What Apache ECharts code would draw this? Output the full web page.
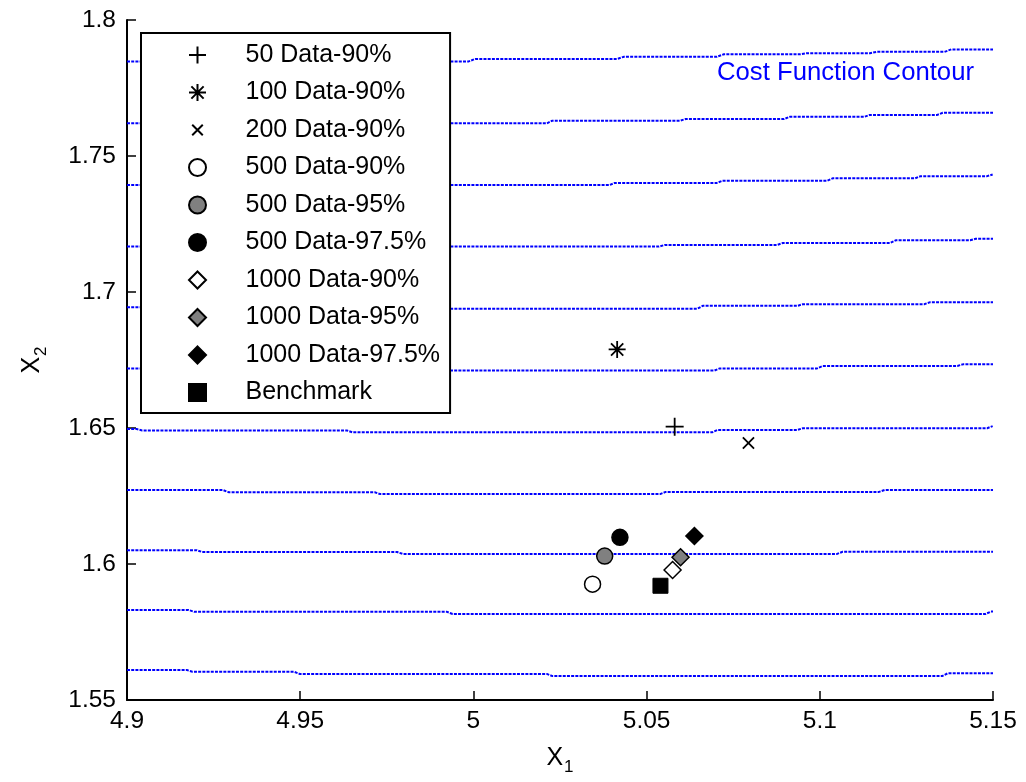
<!DOCTYPE html>
<html><head><meta charset="utf-8">
<script src="https://cdn.jsdelivr.net/npm/echarts@6/dist/echarts.min.js"></script>
<style>html,body{margin:0;padding:0;background:#fff}#c{width:1026px;height:782px}</style>
</head><body><div id="c"></div>
<script>
// ---- data ----
const seriesNames = ['50 Data-90%','100 Data-90%','200 Data-90%','500 Data-90%','500 Data-95%','500 Data-97.5%','1000 Data-90%','1000 Data-95%','1000 Data-97.5%','Benchmark'];
const xValues = [5.0581, 5.0415, 5.0794, 5.0344, 5.0379, 5.0423, 5.0575, 5.0598, 5.0638, 5.0540];
const yValues = [1.6505, 1.6789, 1.6445, 1.5926, 1.6029, 1.6098, 1.5978, 1.6025, 1.6103, 1.5920];
const xTickValues = [4.9, 4.95, 5, 5.05, 5.1, 5.15];
const yTickValues = [1.55, 1.6, 1.65, 1.7, 1.75, 1.8];

const contour1 = [[4.9,1.7847],[4.9985,1.7847],[5.0005,1.7857],[5.0415,1.7857],[5.0435,1.7865],[5.0703,1.7865],[5.0723,1.7874],[5.0943,1.7874],[5.0963,1.7878],[5.1145,1.7878],[5.1165,1.7883],[5.1360,1.7883],[5.1380,1.7892],[5.15,1.7892]];
const contour2 = [[4.9,1.7620],[5.0212,1.7620],[5.0228,1.7630],[5.0597,1.7630],[5.0613,1.7636],[5.0897,1.7636],[5.0913,1.7644],[5.1128,1.7644],[5.1144,1.7651],[5.1339,1.7651],[5.1355,1.7659],[5.15,1.7659]];
const contour3 = [[4.9,1.7393],[5.0392,1.7393],[5.0408,1.7401],[5.0703,1.7401],[5.0719,1.7409],[5.1021,1.7409],[5.1037,1.7418],[5.1275,1.7418],[5.1291,1.7426],[5.1483,1.7426],[5.1499,1.7432],[5.15,1.7432]];
const contour4 = [[4.9,1.7167],[5.0536,1.7167],[5.0552,1.7173],[5.0877,1.7173],[5.0893,1.7180],[5.1203,1.7180],[5.1219,1.7190],[5.1434,1.7190],[5.1450,1.7196],[5.15,1.7196]];
const contour5 = [[4.9,1.6944],[4.9500,1.6944],[4.9516,1.6938],[5.0646,1.6938],[5.0662,1.6949],[5.0935,1.6949],[5.0951,1.6955],[5.1301,1.6955],[5.1317,1.6962],[5.15,1.6962]];
const contour6 = [[4.9,1.6719],[4.9500,1.6719],[4.9516,1.6711],[5.0695,1.6711],[5.0711,1.6719],[5.0992,1.6719],[5.1008,1.6728],[5.1397,1.6728],[5.1413,1.6734],[5.15,1.6734]];
const contour7 = [[4.9,1.6496],[4.9028,1.6496],[4.9044,1.6491],[4.9635,1.6491],[4.9651,1.6484],[5.0689,1.6484],[5.0705,1.6493],[5.0935,1.6493],[5.0951,1.6499],[5.1483,1.6499],[5.1499,1.6507],[5.15,1.6507]];
const contour8 = [[4.9,1.6272],[4.9277,1.6272],[4.9293,1.6264],[4.9715,1.6264],[4.9731,1.6257],[5.0539,1.6257],[5.0555,1.6265],[5.1171,1.6265],[5.1187,1.6272],[5.15,1.6272]];
const contour9 = [[4.9,1.6051],[4.9201,1.6051],[4.9217,1.6044],[4.9780,1.6044],[4.9796,1.6037],[5.1050,1.6037],[5.1066,1.6045],[5.15,1.6045]];
const contour10 = [[4.9,1.5831],[4.9178,1.5831],[4.9194,1.5824],[4.9924,1.5824],[4.9940,1.5816],[5.1478,1.5816],[5.1494,1.5825],[5.15,1.5825]];
const contour11 = [[4.9,1.5610],[4.9173,1.5610],[4.9189,1.5604],[4.9482,1.5604],[4.9498,1.5596],[5.0212,1.5596],[5.0228,1.5588],[5.1353,1.5588],[5.1369,1.5598],[5.15,1.5598]];
const contours = [contour1,contour2,contour3,contour4,contour5,contour6,contour7,contour8,contour9,contour10,contour11];
const contourLabel = 'Cost Function Contour';

// ---- styles ----
const FONT = '"Liberation Sans", Arial, sans-serif';
const DIAMOND = 'path://M0,-1L1,0L0,1L-1,0Z';
const SQUARE = 'path://M-1,-1L1,-1L1,1L-1,1Z';
const markerStyles = [
  {symbol:'path://M0,-1L0,1M-1,0L1,0', size:18, color:'rgba(0,0,0,0)', bw:1.8},
  {symbol:'path://M0,-1L0,1M-1,0L1,0M-0.72,-0.72L0.72,0.72M-0.72,0.72L0.72,-0.72', size:17, color:'rgba(0,0,0,0)', bw:1.8},
  {symbol:'path://M-1,-1M1,1M-0.62,-0.62L0.62,0.62M-0.62,0.62L0.62,-0.62', size:18, color:'rgba(0,0,0,0)', bw:1.8},
  {symbol:'circle', size:16, color:'#ffffff', bw:1.5},
  {symbol:'circle', size:16, color:'#808080', bw:1.5},
  {symbol:'circle', size:16, color:'#000000', bw:1.5},
  {symbol:DIAMOND, size:17, color:'#ffffff', bw:1.5},
  {symbol:DIAMOND, size:17, color:'#808080', bw:1.5},
  {symbol:DIAMOND, size:17, color:'#000000', bw:1.5},
  {symbol:SQUARE, size:15, color:'#000000', bw:1}
];
const fmt = v => String(+(+v).toFixed(2));

const series = contours.map((c, i) => ({
  name: 'contour' + i, type: 'line', data: c, showSymbol: false, silent: true, z: 1,
  lineStyle: {color: '#0000ff', width: 2, type: [3, 1.2]}, animation: false
}));
seriesNames.forEach((n, i) => {
  const m = markerStyles[i];
  series.push({
    name: n, type: 'scatter', data: [[xValues[i], yValues[i]]],
    symbol: m.symbol, symbolSize: m.size, z: 3, animation: false,
    itemStyle: {color: m.color, borderColor: '#000', borderWidth: m.bw, opacity: 1}
  });
});

const chart = echarts.init(document.getElementById('c'), null, {renderer: 'canvas'});
chart.setOption({
  backgroundColor: '#fff',
  animation: false,
  grid: {left: 127, right: 33, top: 20, bottom: 82, containLabel: false},
  xAxis: {
    type: 'value', min: xTickValues[0], max: xTickValues[xTickValues.length-1], interval: 0.05,
    axisLine: {show: true, lineStyle: {color: '#000', width: 2}},
    axisTick: {show: true, inside: true, length: 9, lineStyle: {color: '#000', width: 1.5}},
    axisLabel: {color: '#000', fontSize: 24.5, fontFamily: FONT, margin: 9, formatter: fmt, showMinLabel: true, showMaxLabel: true},
    splitLine: {show: false},
    name: '{x|X}{s|1}', nameLocation: 'middle', nameGap: 46,
    nameTextStyle: {color: '#000', fontFamily: FONT, rich: {
      x: {fontSize: 25, fontFamily: FONT, color: '#000', lineHeight: 25, verticalAlign: 'top'},
      s: {fontSize: 17, fontFamily: FONT, color: '#000', lineHeight: 17, verticalAlign: 'top', padding: [13, 0, 0, 1]}
    }}
  },
  yAxis: {
    type: 'value', min: yTickValues[0], max: yTickValues[yTickValues.length-1], interval: 0.05,
    axisLine: {show: true, lineStyle: {color: '#000', width: 2}},
    axisTick: {show: true, inside: true, length: 9, lineStyle: {color: '#000', width: 1.5}},
    axisLabel: {color: '#000', fontSize: 24.5, fontFamily: FONT, margin: 11, formatter: fmt, showMinLabel: true, showMaxLabel: true},
    splitLine: {show: false},
    name: '{x|X}{s|2}', nameLocation: 'middle', nameGap: 82,
    nameTextStyle: {color: '#000', fontFamily: FONT, rich: {
      x: {fontSize: 25, fontFamily: FONT, color: '#000', lineHeight: 25, verticalAlign: 'top'},
      s: {fontSize: 17, fontFamily: FONT, color: '#000', lineHeight: 17, verticalAlign: 'top', padding: [13, 0, 0, 1]}
    }}
  },
  legend: {
    data: seriesNames, orient: 'vertical', left: 141, top: 33,
    padding: [9.5, 10, 8, 47], itemGap: 12.5, itemWidth: 86, itemHeight: 17,
    backgroundColor: '#fff', borderColor: '#000', borderWidth: 2, borderRadius: 0,
    selectedMode: false,
    itemStyle: {borderColor: '#000'},
    textStyle: {color: '#000', fontSize: 25, fontFamily: FONT}
  },
  graphic: [{
    type: 'text', left: 717, top: 60, z: 10,
    style: {text: contourLabel, fill: '#0000ff', fontSize: 25.7, fontFamily: FONT}
  }],
  series: series
});
</script></body></html>
